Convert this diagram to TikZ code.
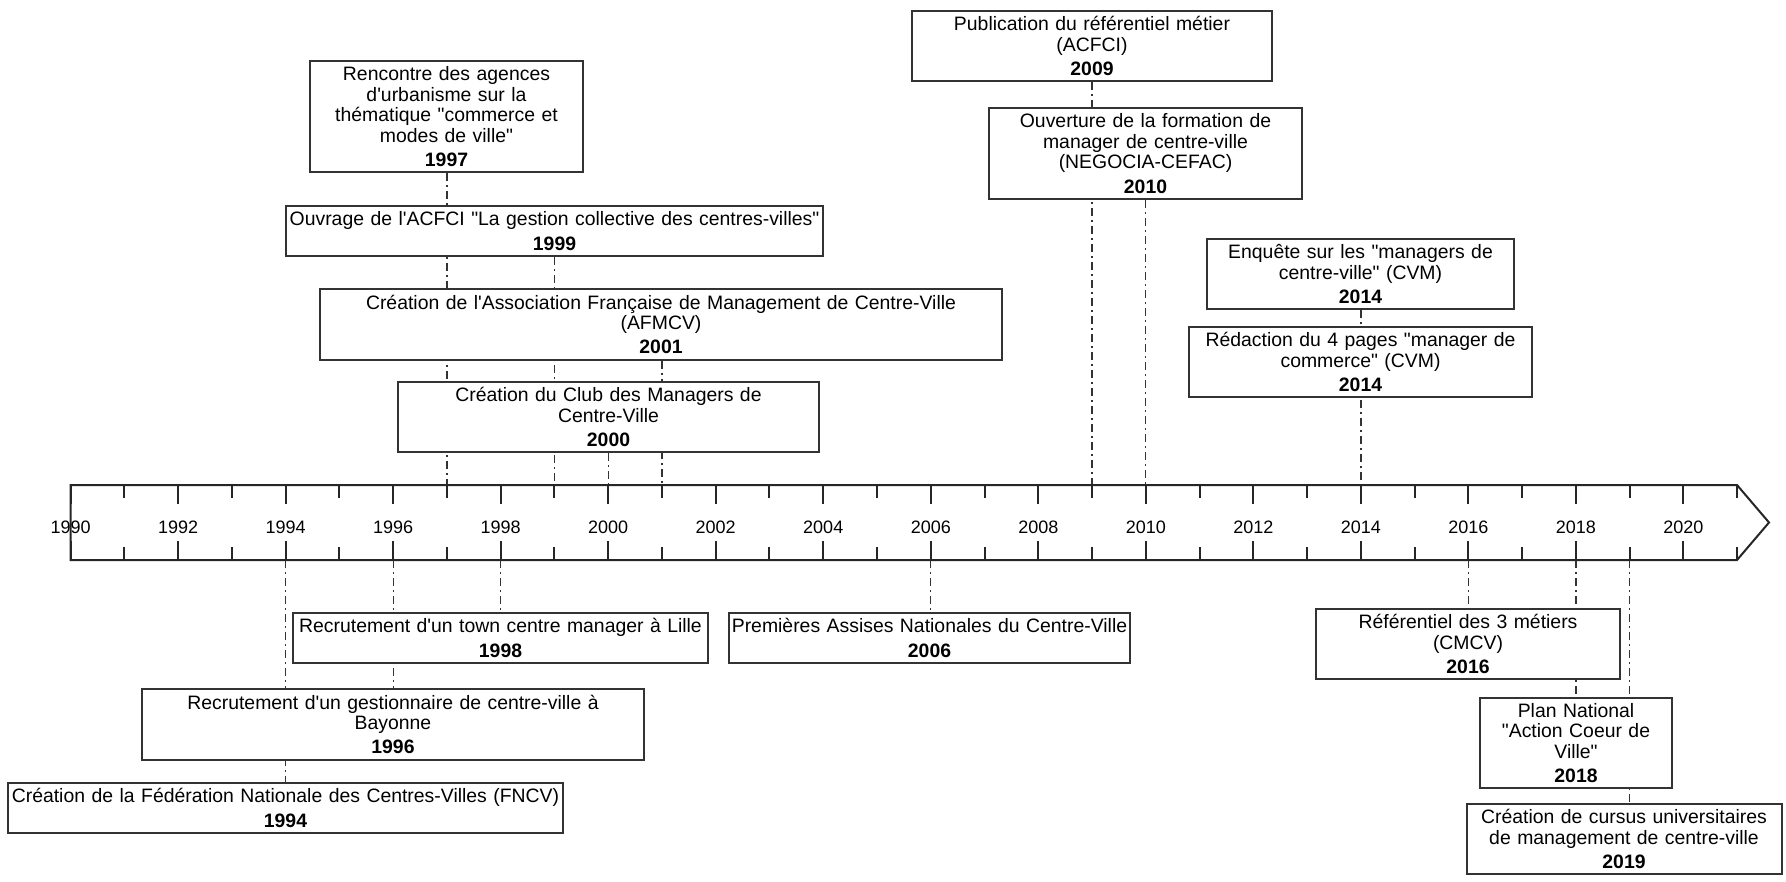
\documentclass[tikz,border=0pt]{standalone}
\usepackage{fontspec}
\newfontfamily\evfont{Liberation Sans}
\usetikzlibrary{backgrounds}
\tikzset{
    event/.style 2 args={draw=black!80,line width=1pt,fill=white,align=center,inner sep=0pt,
        text width=#1,minimum width=#1,minimum height=#2,font=\evfont\fontsize{9.7}{10.3}\selectfont},
    link/.style={black!80,line width=0.65pt,dash pattern=on 4pt off 2pt on 1pt off 2pt},
    timeline/.style={black!85,line width=1pt},
    yearlabel/.style={inner sep=0pt,font=\evfont\fontsize{9}{10}\selectfont}
}

\begin{document}
\begin{tikzpicture}[x=0.5pt,y=-0.5pt]
\useasboundingbox (0,0) rectangle (1786,882);

% axis
\draw[timeline] (70.6,485) -- (1737,485) -- (1769,522.5) -- (1737,560) -- (70.6,560) -- cycle;
\foreach \k in {0,...,31}{
    \pgfmathsetmacro\xx{70.6+\k*53.76}
    \pgfmathtruncatemacro\yr{1990+\k}
    \coordinate (t\yr) at (\xx,485);
    \coordinate (b\yr) at (\xx,560);
    \ifodd\k
        \draw[timeline] (t\yr) -- ++(0,13) (b\yr) -- ++(0,-13);
    \else
        \draw[timeline] (t\yr) -- ++(0,19) (b\yr) -- ++(0,-19);
        \node[yearlabel] (l\yr) at (\xx,527) {\yr};
    \fi
}

% above the axis
\node[event={136.5pt}{55.5pt}] (e1997) at (446.5,116.5) {Rencontre des agences\\d'urbanisme sur la\\thématique "commerce et\\modes de ville"\\[1.8pt]\textbf{1997}};
\node[event={268.5pt}{25pt}] (e1999) at (554.5,231) {Ouvrage de l'ACFCI "La gestion collective des centres-villes"\\[1.8pt]\textbf{1999}};
\node[event={341pt}{35.5pt}] (e2001) at (661,324.5) {Création de l'Association Française de Management de Centre-Ville\\(AFMCV)\\[1.8pt]\textbf{2001}};
\node[event={210.5pt}{35pt}] (e2000) at (608.5,417) {Création du Club des Managers de\\Centre-Ville\\[1.8pt]\textbf{2000}};
\node[event={180pt}{35pt}] (e2009) at (1092,46) {Publication du référentiel métier\\(ACFCI)\\[1.8pt]\textbf{2009}};
\node[event={156.5pt}{45.5pt}] (e2010) at (1145.5,153.5) {Ouverture de la formation de\\manager de centre-ville\\ (NEGOCIA-CEFAC)\\[1.8pt]\textbf{2010}};
\node[event={153.5pt}{35pt}] (e2014a) at (1360.5,274) {Enquête sur les "managers de\\centre-ville" (CVM)\\[1.8pt]\textbf{2014}};
\node[event={171.5pt}{35pt}] (e2014b) at (1360.5,362) {Rédaction du 4 pages "manager de\\commerce" (CVM)\\[1.8pt]\textbf{2014}};

% below the axis
\node[event={207.5pt}{25pt}] (e1998) at (500.5,638) {Recrutement d'un town centre manager à Lille\\[1.8pt]\textbf{1998}};
\node[event={251pt}{35.5pt}] (e1996) at (393,724.5) {Recrutement d'un gestionnaire de centre-ville à\\Bayonne\\[1.8pt]\textbf{1996}};
\node[event={277.5pt}{25pt}] (e1994) at (285.5,808) {Création de la Fédération Nationale des Centres-Villes (FNCV)\\[1.8pt]\textbf{1994}};
\node[event={200.5pt}{25pt}] (e2006) at (929.5,638) {Premières Assises Nationales du Centre-Ville\\[1.8pt]\textbf{2006}};
\node[event={152pt}{35pt}] (e2016) at (1468,644) {Référentiel des 3 métiers\\(CMCV)\\[1.8pt]\textbf{2016}};
\node[event={96pt}{45pt}] (e2018) at (1576,743) {Plan National\\"Action Coeur de\\Ville"\\[1.8pt]\textbf{2018}};
\node[event={157.5pt}{35pt}] (e2019) at (1624,839) {Création de cursus universitaires\\de management de centre-ville\\[1.8pt]\textbf{2019}};

\begin{scope}[on background layer]
\foreach \yr in {1997,1999,2000,2001,2009,2010}
    \draw[link] (t\yr |- e\yr.south) -- (t\yr);
\draw[link] (t2014 |- e2014a.south) -- (t2014);
\foreach \yr in {1994,1996,1998,2006,2016,2018,2019}
    \draw[link] (b\yr) -- (b\yr |- e\yr.north);
\end{scope}
\end{tikzpicture}
\end{document}
